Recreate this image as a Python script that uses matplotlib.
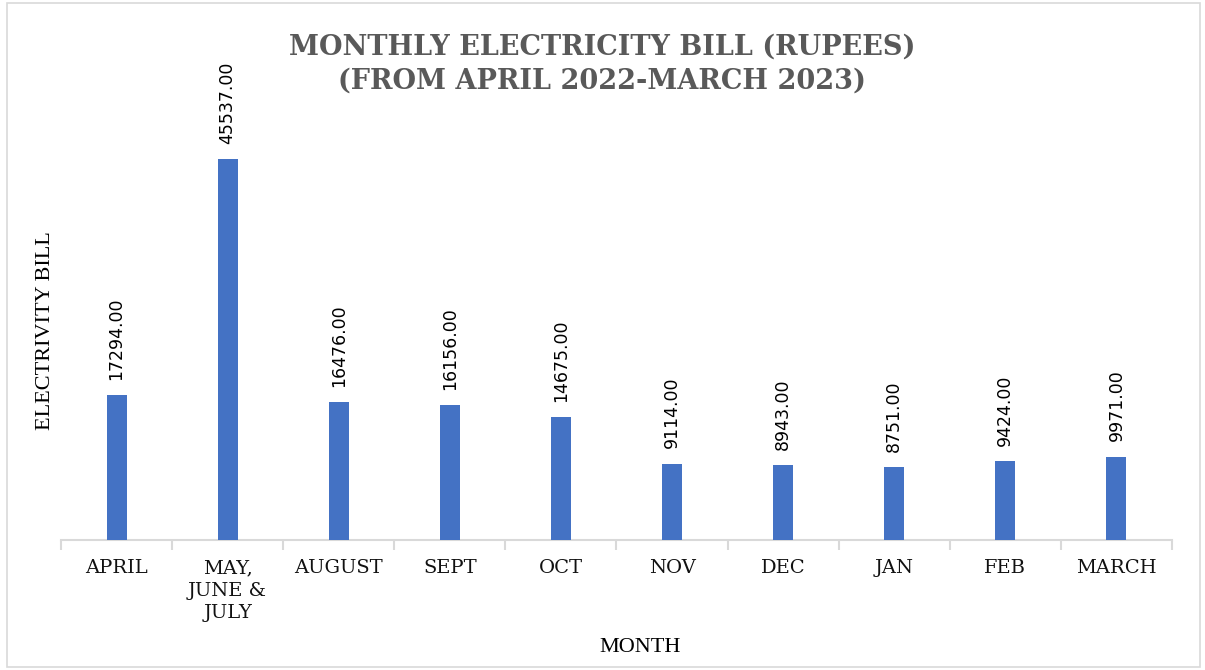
import numpy as np
import matplotlib.pyplot as plt
from matplotlib.patches import Rectangle

# data
months = ['APRIL', 'MAY,\nJUNE &\nJULY', 'AUGUST', 'SEPT', 'OCT', 'NOV', 'DEC', 'JAN', 'FEB', 'MARCH']
bill = [17294.00, 45537.00, 16476.00, 16156.00, 14675.00, 9114.00, 8943.00, 8751.00, 9424.00, 9971.00]

fig = plt.figure(figsize=(12.05, 6.70), dpi=100)
ax = fig.add_axes([0.0506, 0.194, 0.922, 0.6245])

x = np.arange(len(months))
ax.bar(x, bill, width=0.18, color='#4472C4', zorder=3)

for xi, v in zip(x, bill):
    ax.annotate(f'{v:.2f}', (xi, v), xytext=(0, 11), textcoords='offset points',
                rotation=90, ha='center', va='bottom', fontsize=12.5,
                family='DejaVu Sans', color='#000000')

ax.set_xlim(-0.5, len(months) - 0.5)
ax.set_ylim(0, 50000)
ax.set_yticks([])

ax.set_xticks(x)
ax.set_xticklabels(months, family='DejaVu Serif', fontsize=14, color='#111111',
                   linespacing=1.3)
ax.tick_params(axis='x', which='major', length=0, pad=14)
ax.set_xticks(np.arange(-0.5, len(months)), minor=True)
ax.tick_params(axis='x', which='minor', length=7, width=1.5, color='#d9d9d9')

for s in ['top', 'right', 'left']:
    ax.spines[s].set_visible(False)
ax.spines['bottom'].set_color('#d9d9d9')
ax.spines['bottom'].set_linewidth(1.5)

fig.text(0.5, 0.950, 'MONTHLY ELECTRICITY BILL (RUPEES)\n(FROM APRIL 2022-MARCH 2023)',
         ha='center', va='top', fontsize=19.5, fontweight='bold', family='DejaVu Serif',
         color='#595959', linespacing=1.35)

fig.text(0.038, 0.507, 'ELECTRIVITY BILL', rotation=90, ha='center', va='center',
         fontsize=16, family='Liberation Serif', color='#000000')
fig.text(0.531, 0.033, 'MONTH', ha='center', va='center',
         fontsize=16, family='Liberation Serif', color='#000000')

# light grey frame around the chart
fig.patches.append(Rectangle((0.006, 0.004), 0.99, 0.992, transform=fig.transFigure,
                             fill=False, edgecolor='#d9d9d9', linewidth=1.2))

fig.savefig('out.png', dpi=100)
